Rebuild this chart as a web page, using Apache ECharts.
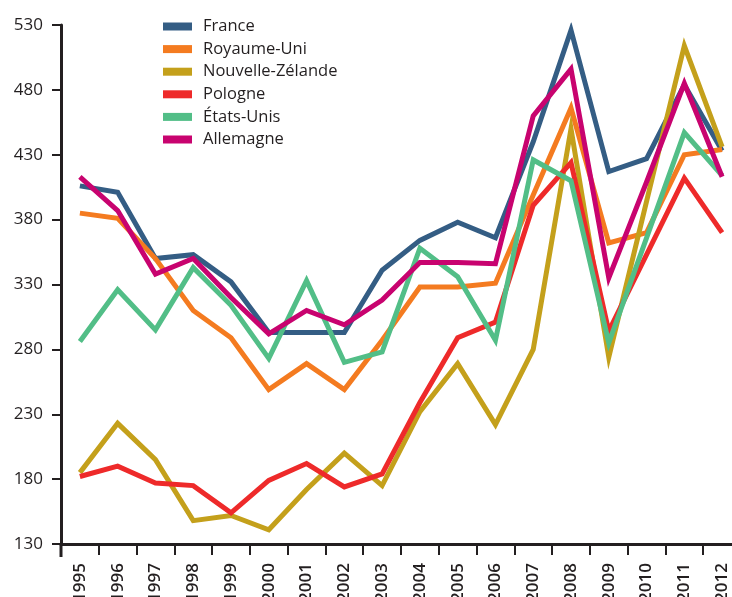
<!DOCTYPE html>
<html lang="fr">
<head>
    <meta charset="UTF-8">
    <title>Scores 1995-2012</title>
    <script src="https://cdn.jsdelivr.net/npm/echarts@6/dist/echarts.min.js"></script>
    <style>
        html, body { margin: 0; padding: 0; background: #fff; }
        #chart { width: 732px; height: 597px; }
    </style>
</head>
<body>
<div id="chart"></div>
<script type="text/javascript">
    var years = ['1995', '1996', '1997', '1998', '1999', '2000', '2001', '2002', '2003',
        '2004', '2005', '2006', '2007', '2008', '2009', '2010', '2011', '2012'];

    var france      = [406, 401, 350, 353, 332, 293, 293, 293, 341, 364, 378, 366, 440, 526, 417, 427, 484, 433];
    var royaumeUni  = [385, 381, 350, 310, 289, 249, 269, 249, 287, 328, 328, 331, 399, 466, 362, 370, 430, 434];
    var nouvelleZel = [185, 223, 195, 148, 152, 141, 172, 200, 175, 232, 269, 222, 280, 450, 274, 394, 514, 436];
    var pologne     = [182, 190, 177, 175, 154, 179, 192, 174, 184, 239, 289, 301, 391, 424, 294, 353, 412, 370];
    var etatsUnis   = [286, 326, 295, 343, 314, 273, 333, 270, 278, 358, 336, 287, 426, 410, 285, 366, 447, 414];
    var allemagne   = [413, 387, 338, 350, 320, 292, 310, 299, 318, 347, 347, 346, 460, 496, 335, 409, 485, 413];

    var names  = ['France', 'Royaume-Uni', 'Nouvelle-Zélande', 'Pologne', 'États-Unis', 'Allemagne'];
    var values = [france, royaumeUni, nouvelleZel, pologne, etatsUnis, allemagne];
    var colors = ['#345d84', '#f47b20', '#c4a01b', '#ee2a2a', '#52be87', '#c8036f'];

    var ink = '#231f20';
    var font = 'Open Sans';

    var chart = echarts.init(document.getElementById('chart'));

    var series = names.map(function (n, i) {
        return {
            name: n,
            type: 'line',
            data: values[i],
            symbol: 'none',
            lineStyle: { width: 5, color: colors[i], join: 'miter' },
            itemStyle: { color: colors[i] },
            z: 2 + i
        };
    });

    var option = {
        animation: false,
        backgroundColor: '#fff',
        grid: { left: 61, right: -9, top: 25, bottom: 53, containLabel: false, outerBoundsMode: 'none' },
        legend: {
            orient: 'vertical',
            left: 158,
            top: 13,
            itemWidth: 29,
            itemHeight: 8,
            itemGap: 5.6,
            icon: 'rect',
            textStyle: { fontFamily: font, fontSize: 16.5, color: ink, lineHeight: 16, padding: [0, 0, 0, 6] },
            data: names
        },
        xAxis: {
            type: 'category',
            data: years,
            boundaryGap: true,
            axisLine: { lineStyle: { color: ink, width: 3 } },
            axisTick: { show: true, length: 11, lineStyle: { color: ink, width: 2 } },
            axisLabel: {
                rotate: 90,
                margin: 19,
                fontFamily: font,
                fontSize: 17,
                fontWeight: 600,
                color: ink,
                interval: 0
            },
            splitLine: { show: false }
        },
        yAxis: {
            type: 'value',
            min: 130,
            max: 530,
            interval: 50,
            axisLine: { show: true, lineStyle: { color: ink, width: 3 } },
            axisTick: { show: true, length: 9, lineStyle: { color: ink, width: 2 } },
            axisLabel: { margin: 18, fontFamily: font, fontSize: 17, color: ink },
            splitLine: { show: false }
        },
        graphic: [{
            // the vertical axis runs on a little past the horizontal one
            type: 'line',
            shape: { x1: 61, y1: 544, x2: 61, y2: 557 },
            style: { stroke: ink, lineWidth: 3 }
        }],
        series: series
    };

    chart.setOption(option);
</script>
</body>
</html>
